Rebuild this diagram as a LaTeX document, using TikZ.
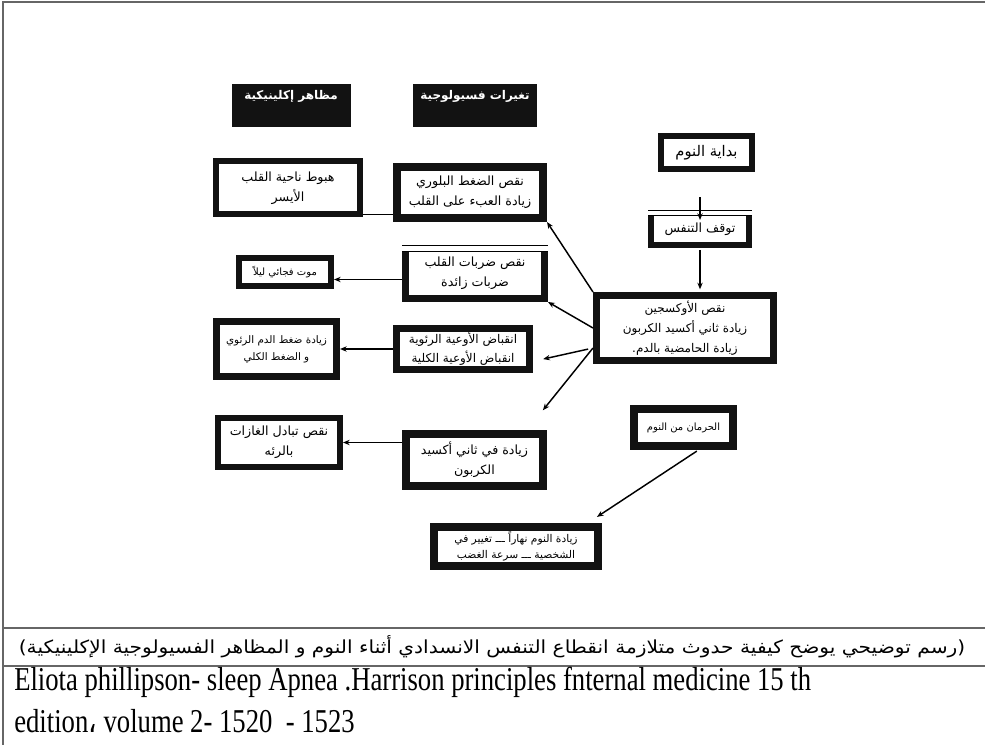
\documentclass[tikz,border=0pt]{standalone}
\usepackage{fontspec}
\usepackage{graphicx}
\usetikzlibrary{arrows.meta,calc}
\setmainfont{Liberation Serif}
\newfontfamily\arabicfont[Script=Arabic]{DejaVu Sans}
\TeXXeTstate=1
\newcommand\artx[1]{\beginR #1\endR}
% thin double rule over the top edge of a box
\newcommand\dbltop[2]{%
  \fill[white] ($(#1.north west)+(0,-1)$) rectangle ($(#1.north east)+(0,#2)$);
  \draw[line width=0.8pt] ($(#1.north west)+(0,0.5)$) -- ($(#1.north east)+(0,0.5)$);
  \draw[line width=0.8pt] ($(#1.north west)+(0,#2-0.5)$) -- ($(#1.north east)+(0,#2-0.5)$);
}
\begin{document}
\begin{tikzpicture}[x=0.75pt,y=-0.75pt,
hdr/.style={fill=black!93, text=white, inner sep=0pt, text depth=16pt, font=\arabicfont\bfseries\fontsize{9}{11}\selectfont},
box/.style={draw=black!93, fill=white, inner sep=0pt, align=center, font=\arabicfont\fontsize{9.5}{15}\selectfont},
fs/.style 2 args={font=\arabicfont\fontsize{#1}{#2}\selectfont},
wh/.style 2 args={minimum width=#1*0.75pt, minimum height=#2*0.75pt},
lw/.style={line width=#1*0.75pt},
arr/.style={-{Stealth[length=5pt,width=4pt]}, line width=1.1pt},
rule/.style={draw=black!60, line width=1.2pt},
]
\useasboundingbox (0,0) rectangle (985,745);

%Frame
\draw[rule] (3,745) -- (3,2) -- (985,2);
\draw[rule] (3,628) -- (985,628);
\draw[rule] (3,666) -- (985,666);

%Headings
\node[hdr, wh={119}{43}] (clin) at (291,106) {\artx{مظاهر إكلينيكية}};
\node[hdr, wh={124}{43}] (phys) at (475,106) {\artx{تغيرات فسيولوجية}};

%Right column
\node[box, fs={11}{15}, lw=6, wh={91}{33}] (start) at (706.5,152.5) {\artx{بداية النوم}};
\node[box, lw=6, wh={98}{32}] (stop) at (700,229) {\artx{توقف التنفس}};
\dbltop{stop}{6}
\node[box, fs={9}{15}, lw=7, wh={177}{65}] (central) at (685,328)
  {\artx{نقص الأوكسجين}\\ \artx{زيادة ثاني أكسيد الكربون}\\ \artx{زيادة الحامضية بالدم.}};
\node[box, fs={7.5}{11}, lw=8, wh={99}{37}] (depr) at (683.5,427.5) {\artx{الحرمان من النوم}};
\node[box, fs={8}{12}, lw=8, wh={164}{39}] (day) at (516,546.5)
  {\artx{زيادة النوم نهاراً ـــ تغيير في}\\ \artx{الشخصية ـــ سرعة الغضب}};

%Physiological changes
\node[box, lw=8, wh={146}{51}] (press) at (470,192.5)
  {\artx{نقص الضغط البلوري}\\ \artx{زيادة العبء على القلب}};
\node[box, lw=7, wh={139}{50}] (beats) at (475,273.5)
  {\artx{نقص ضربات القلب}\\ \artx{ضربات زائدة}};
\dbltop{beats}{7}
\node[box, fs={9}{14}, lw=7, wh={133}{41}] (vaso) at (463,349)
  {\artx{انقباض الأوعية الرئوية}\\ \artx{انقباض الأوعية الكلية}};
\node[box, lw=8, wh={137}{52}] (co2) at (474.5,460)
  {\artx{زيادة في ثاني أكسيد}\\ \artx{الكربون}};

%Clinical signs
\node[box, lw=6, wh={144}{53}] (lv) at (288,188)
  {\artx{هبوط ناحية القلب}\\ \artx{الأيسر}};
\node[box, fs={7.5}{11}, lw=6, wh={92}{28}] (death) at (285,272) {\artx{موت فجائي ليلاً}};
\node[box, fs={7.8}{13}, lw=7, wh={120}{55}] (hyper) at (276.5,349)
  {\artx{زيادة ضغط الدم الرئوي}\\ \artx{و الضغط الكلي}};
\node[box, lw=6, wh={122}{49}] (gas) at (279,442.5)
  {\artx{نقص تبادل الغازات}\\ \artx{بالرئه}};

%Arrows right column
\draw[arr, shorten <=19pt, shorten >=-7.5pt] (start.south -| stop) -- (stop.north);
\draw[arr, shorten <=1.5pt, shorten >=2pt] (stop.south) -- (stop.south |- central.north);
\draw[arr, shorten <=1.5pt, shorten >=8.3pt] ($(depr.south)+(15,0)$) -- ($(day.north east)+(-14.3,0)$);

%Arrows from central box
\draw[arr] (central.north west) -- (press.south east);
\draw[arr] (central.west) -- (beats.south east);
\coordinate (c1) at ($(central.west)+(0,20)$);
\draw[arr, shorten <=3.75pt, shorten >=7.8pt] (c1) -- (vaso.-10);
\draw[arr, shorten >=19pt] (c1) -- ($(co2.north east)+(-20,0)$);

%Changes -- signs
\coordinate (l1) at ($(lv.south east)+(0,-3)$);
\draw[line width=1.1pt] (l1) -- (l1 -| press.west);
\coordinate (b1) at ($(beats.west)+(0,6)$);
\draw[arr] (b1) -- (b1 -| death.east);
\draw[arr] (vaso.west) -- (hyper.east);
\coordinate (g1) at (co2.west |- gas);
\draw[arr] (g1) -- (gas.east);

%Caption and source
\node (cap) at (492,647) {\scalebox{1.12}[1]{\arabicfont\fontsize{13.5}{16}\selectfont
  \artx{(رسم توضيحي يوضح كيفية حدوث متلازمة انقطاع التنفس الانسدادي أثناء النوم و المظاهر الفسيولوجية الإكلينيكية)}}};
\node[anchor=base west, inner sep=0pt] (src1) at (14,690) {\scalebox{0.8}[1]{\fontsize{25}{30}\selectfont
  Eliota phillipson- sleep Apnea .Harrison principles fnternal medicine 15 th}};
\node[anchor=base west, inner sep=0pt] (src2) at (14,732) {\scalebox{0.8}[1]{\fontsize{25}{30}\selectfont
  edition{\arabicfont ،} volume 2- 1520\ \ - 1523}};
\end{tikzpicture}
\end{document}
